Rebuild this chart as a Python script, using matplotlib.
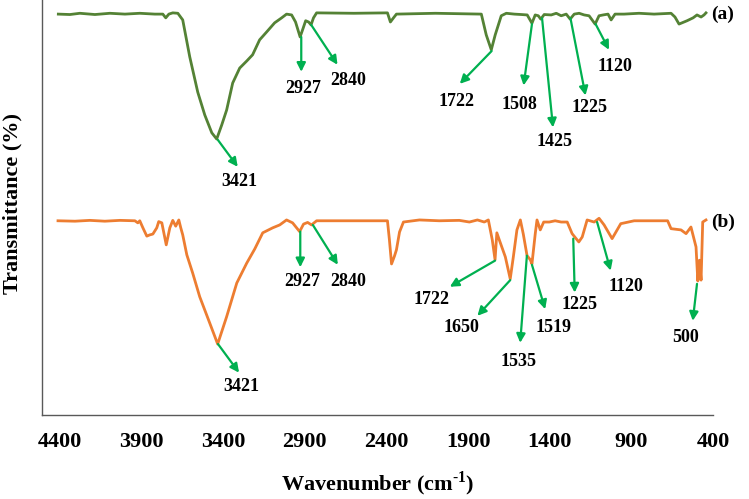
import matplotlib
matplotlib.use("Agg")
import matplotlib.pyplot as plt

plt.rcParams['font.family'] = ['Liberation Serif', 'DejaVu Serif']
plt.rcParams['font.weight'] = 'bold'
plt.rcParams['mathtext.fontset'] = 'custom'
plt.rcParams['mathtext.rm'] = 'Liberation Serif:bold'
plt.rcParams['mathtext.bf'] = 'Liberation Serif:bold'

# ---------------- data ----------------
wn_a = [4410, 4339, 4278, 4186, 4094, 4002, 3911, 3819, 3770, 3752, 3733, 3709, 3678,
        3648, 3605, 3556, 3513, 3470, 3440, 3409, 3379, 3342, 3299, 3256, 3220, 3177,
        3134, 3085, 3042, 3012, 2981, 2957, 2929, 2914, 2895, 2877, 2862, 2847, 2828,
        2600, 2394, 2376, 2357, 2339, 2100, 1819, 1789, 1758, 1734, 1697, 1666, 1617,
        1574, 1538, 1509, 1489, 1470, 1455, 1434, 1391, 1360, 1330, 1299, 1275, 1250,
        1220, 1189, 1159, 1122, 1098, 1073, 1043, 1024, 1000, 945, 853, 761, 657, 633,
        608, 559, 522, 498, 473, 455, 443]
t_a = [96.6, 96.5, 96.8, 96.5, 96.8, 96.6, 96.8, 96.6, 96.6, 95.7, 96.6, 96.9, 96.8,
       95.2, 86.3, 77.8, 72.3, 68.0, 66.5, 69.9, 73.5, 80.0, 83.6, 85.3, 86.8, 90.4,
       92.3, 94.5, 95.7, 96.6, 96.4, 94.7, 91.1, 92.8, 95.0, 94.7, 94.0, 95.7, 96.9,
       96.8, 96.9, 94.7, 95.7, 96.6, 96.8, 96.6, 91.6, 88.0, 91.6, 96.2, 96.8, 96.6,
       96.5, 96.4, 94.4, 96.4, 96.2, 95.4, 96.5, 96.4, 96.8, 96.2, 96.6, 95.4, 96.6,
       96.8, 96.4, 96.2, 94.2, 96.2, 96.4, 96.6, 95.2, 96.6, 96.6, 96.8, 96.6, 96.8, 95.9,
       94.2, 95.0, 95.7, 96.4, 95.9, 96.4, 96.9]

wn_b = [4412, 4308, 4217, 4125, 4033, 3941, 3923, 3911, 3892, 3868, 3850, 3831, 3807,
        3795, 3776, 3749, 3727, 3709, 3691, 3672, 3660, 3648, 3623, 3587, 3544, 3483,
        3434, 3379, 3317, 3256, 3207, 3158, 3097, 3054, 3012, 2975, 2932, 2908, 2883,
        2859, 2828, 2600, 2394, 2382, 2369, 2351, 2339, 2320, 2296, 2198, 2076, 1954,
        1892, 1843, 1801, 1776, 1764, 1752, 1735, 1724, 1709, 1672, 1642, 1623, 1601,
        1580, 1562, 1539, 1519, 1509, 1489, 1478, 1458, 1437, 1403, 1367, 1330, 1293,
        1263, 1222, 1201, 1171, 1128, 1098, 1067, 1018, 965, 883, 730, 678, 657, 596,
        565, 535, 504, 493, 483, 473, 463, 443]
t_b = [46.8, 46.7, 46.9, 46.7, 46.9, 46.8, 46.3, 46.8, 45.1, 43.1, 43.4, 43.6, 45.1,
       46.6, 46.3, 41.0, 45.1, 46.9, 45.5, 47.0, 45.1, 43.4, 38.6, 34.2, 28.5, 22.2,
       17.1, 23.7, 31.8, 36.6, 40.0, 43.9, 45.1, 45.8, 47.0, 46.3, 44.2, 46.0, 46.4,
       45.8, 46.8, 46.8, 46.8, 42.2, 36.4, 38.3, 39.8, 44.1, 46.5, 47.0, 46.8, 46.9,
       46.5, 47.0, 46.5, 47.0, 44.6, 42.2, 37.4, 43.9, 42.2, 38.1, 32.8, 38.1, 44.6,
       47.0, 43.6, 38.4, 37.4, 36.4, 43.6, 47.0, 44.6, 46.5, 46.5, 46.8, 46.5, 46.5,
       43.7, 41.7, 42.9, 47.0, 46.5, 47.4, 45.8, 42.5, 46.1, 46.8, 46.8, 46.8, 44.9, 44.6,
       43.7, 45.3, 40.5, 32.3, 37.3, 32.5, 46.5, 47.0]

peaks_a = ["3421", "2927", "2840", "1722", "1508", "1425", "1225", "1120"]
peaks_b = ["3421", "2927", "2840", "1722", "1650", "1535", "1519", "1225", "1120", "500"]
x_ticks = [4400, 3900, 3400, 2900, 2400, 1900, 1400, 900, 400]

# ---------------- annotation layout: (tail x, tail y, head x, head y, text x, text y) ----
layout_a = [(3433, 66.3, 3311, 59.8, 3299, 56.2),
            (2922, 91.1, 2922, 82.7, 2912, 78.7),
            (2861, 94.0, 2700, 84.4, 2633, 80.5),
            (1756, 87.7, 1951, 79.8, 1972, 75.6),
            (1509, 94.2, 1560, 79.4, 1587, 74.9),
            (1447, 95.6, 1380, 69.3, 1373, 66.0),
            (1273, 95.6, 1181, 77.0, 1155, 74.1),
            (1119, 94.2, 1037, 88.0, 1002, 84.0)]
layout_b = [(3432, 17.1, 3303, 10.2, 3289, 6.9),
            (2928, 44.2, 2928, 35.6, 2914, 32.1),
            (2851, 45.8, 2698, 36.2, 2636, 32.1),
            (1735, 37.2, 2012, 30.9, 2125, 27.8),
            (1642, 32.5, 1843, 23.9, 1943, 21.0),
            (1540, 38.4, 1581, 17.4, 1589, 13.0),
            (1509, 36.2, 1428, 25.5, 1379, 21.0),
            (1256, 42.5, 1247, 29.5, 1216, 26.6),
            (1110, 46.5, 1027, 34.8, 932, 30.9),
            (498, 31.6, 524, 22.7, 567, 18.6)]

GREEN_LINE = '#548235'
ORANGE_LINE = '#ED7D31'
ARROW = '#00B050'

fig = plt.figure(figsize=(7.49, 4.99), dpi=100)
ax = fig.add_axes([42 / 749, 84 / 499, 671 / 749, 415 / 499])

ax.plot(wn_a, t_a, color=GREEN_LINE, lw=2.0, solid_joinstyle='round')
ax.plot(wn_b, t_b, color=ORANGE_LINE, lw=2.0, solid_joinstyle='round')

ax.set_xlim(4510, 406)
ax.set_ylim(0, 100)
ax.set_xticks(x_ticks)
ax.set_xticklabels([str(v) for v in x_ticks], fontsize=16, fontweight='bold')
ax.tick_params(axis='x', length=0, pad=12)
ax.set_yticks([])

for s in ['top', 'right']:
    ax.spines[s].set_visible(False)
for s in ['left', 'bottom']:
    ax.spines[s].set_color('#595959')
    ax.spines[s].set_linewidth(1.0)

for labels, layout in ((peaks_a, layout_a), (peaks_b, layout_b)):
    for lab, (x0, y0, x1, y1, tx, ty) in zip(labels, layout):
        ax.annotate('', xy=(x1, y1), xytext=(x0, y0),
                    arrowprops=dict(arrowstyle='-|>', color=ARROW, lw=1.6,
                                    mutation_scale=13, shrinkA=0, shrinkB=0))
        ax.text(tx, ty, lab, ha='center', va='center', fontsize=13,
                fontweight='bold', color='black')

ax.text(412, 96.6, '(a)', ha='left', va='center', fontsize=14, fontweight='bold', clip_on=False)
ax.text(412, 46.5, '(b)', ha='left', va='center', fontsize=14, fontweight='bold', clip_on=False)

ax.set_ylabel('Transmittance (%)', fontsize=16, fontweight='bold', va='center')
ax.yaxis.set_label_coords(-(42 - 12) / 671, (415 - 204) / 415)
ax.set_xlabel(r'Wavenumber (cm$^{\text{-1}}$)', fontsize=16, fontweight='bold', va='center')
ax.xaxis.set_label_coords((378 - 42) / 671, -(484 - 415) / 415)

fig.savefig('out.png', dpi=100)
